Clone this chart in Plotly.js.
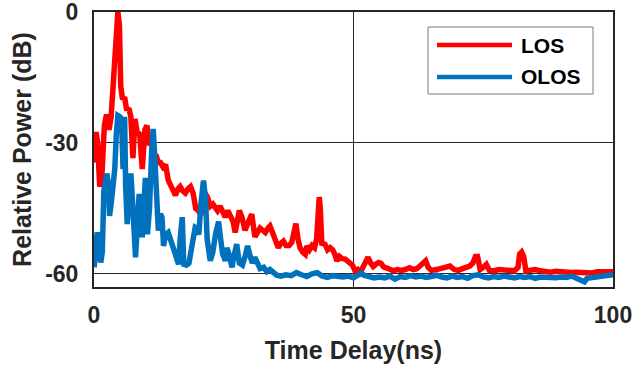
<!DOCTYPE html>
<html>
<head>
<meta charset="utf-8">
<script src="https://cdn.plot.ly/plotly-3.0.1.min.js"></script>
<style>
  html, body { margin: 0; padding: 0; background: #ffffff; }
  #chart { width: 632px; height: 369px; }
</style>
</head>
<body>
<div id="chart"></div>
<script>
// Power delay profiles: time delay (ns) vs relative power (dB)
const seriesNames = ["LOS", "OLOS"];

const timeLOS = [
  0.0, 0.4, 0.7, 1.1, 1.5, 2.0, 2.4, 2.9, 3.3, 3.6, 4.0, 4.35, 4.6, 4.9, 5.15, 5.5, 5.9, 6.3, 6.7, 7.1,
  7.5, 7.9, 8.3, 8.8, 9.3, 9.8, 10.2, 10.6, 11.0, 11.4, 12.0, 12.4, 12.8, 13.3, 13.8, 14.3, 14.8, 15.3, 15.7, 16.2,
  16.6, 17.1, 17.6, 18.1, 18.6, 19.1, 19.6, 20.1, 20.6, 21.0, 21.4, 21.9, 22.4, 22.9, 23.4, 23.8, 24.3, 24.8, 25.3, 25.8,
  26.3, 26.8, 27.2, 27.6, 28.0, 28.5, 29.1, 29.6, 30.0, 30.4, 30.7, 31.0, 31.5, 32.0, 32.5, 33.0, 33.5, 33.9, 34.4, 34.9,
  35.5, 36.0, 36.5, 37.0, 37.6, 38.1, 38.5, 38.9, 39.3, 39.7, 40.2, 40.7, 41.0, 41.5, 42.0, 42.5, 42.9, 43.2, 43.4, 43.6,
  43.9, 44.5, 45.0, 45.5, 46.0, 46.4, 46.8, 47.3, 47.8, 48.4, 48.9, 49.3, 49.8, 50.3, 50.8, 51.3, 51.8, 52.3, 52.8, 53.3,
  53.8, 54.3, 54.8, 55.3, 55.8, 56.3, 57.0, 57.7, 58.4, 59.2, 60.0, 60.8, 61.5, 62.2, 62.8, 63.4, 63.9, 64.4, 65.0, 66.0,
  67.0, 67.8, 68.6, 69.4, 70.2, 71.0, 71.8, 72.4, 73.0, 73.5, 73.9, 74.4, 75.0, 75.6, 76.2, 77.0, 78.0, 79.0, 80.0, 81.0,
  81.7, 82.0, 82.4, 82.8, 83.2, 84.0, 85.0, 86.0, 87.0, 88.0, 89.0, 90.0, 91.0, 92.0, 93.0, 94.0, 95.0, 96.0, 97.0, 98.0,
  99.0, 100.0
];
const powerLOS = [
  -34.5, -27.5, -30, -40, -38, -26, -23.5, -27, -24, -18.5, -10, -2, 0, -3, -17, -20, -19.5, -22.5, -22, -24,
  -33.5, -24.5, -27.5, -28, -36, -27, -26, -30.5, -29.5, -32.5, -33, -34.5, -34.5, -35.5, -35, -38.5, -40, -41.5, -42, -40.5,
  -40, -41, -41.5, -40.5, -40, -41.5, -45, -45.5, -46.5, -43.5, -41.5, -42.5, -44.5, -44, -45, -45.5, -44.5, -46, -47, -45.5,
  -46.5, -48, -50.5, -48, -45.5, -47, -50, -48.5, -47, -46.3, -49, -51.5, -50.5, -49.5, -50, -50.5, -49.5, -49, -50.5, -52.5,
  -54, -53, -52.5, -53.5, -53.5, -52.8, -50.5, -48.5, -52, -54, -55, -55.5, -53.6, -54.5, -53.5, -54, -52, -44, -42.4, -45,
  -53, -53.2, -54.5, -54, -54.5, -55.5, -57, -56, -56.5, -56.6, -57, -57.4, -58, -59.3, -59, -59.7, -58.5, -57.5, -56.2, -57.5,
  -58.3, -57.8, -57.4, -57.6, -58.4, -58.6, -59, -59.3, -59, -59.2, -59, -58.6, -59, -58.8, -58.2, -57.5, -57, -58.5, -59.2, -59,
  -58.8, -58.4, -58.2, -59, -59.2, -58.8, -58.6, -58.2, -57.5, -56, -56, -59, -58.5, -57.8, -59.2, -59.3, -59, -59.2, -59.3, -59.3,
  -58.5, -55.5, -55, -56, -59.3, -59.2, -59, -59.3, -59.5, -59.6, -59.4, -59.6, -59.5, -59.7, -59.6, -59.7, -59.5, -59.8, -59.5, -59.6,
  -59.4, -59.5
];

const timeOLOS = [
  0.0, 0.3, 0.6, 0.9, 1.3, 1.6, 1.9, 2.2, 2.5, 2.8, 3.0, 3.3, 3.7, 4.0, 4.3, 4.6, 5.0, 5.3, 5.6, 5.9,
  6.1, 6.4, 6.8, 7.1, 7.5, 8.0, 8.3, 8.7, 9.0, 9.3, 9.6, 9.9, 10.3, 10.7, 11.1, 11.4, 11.7, 12.1, 12.4, 12.8,
  13.1, 13.4, 13.8, 14.3, 14.8, 15.3, 15.8, 16.3, 16.6, 17.0, 17.3, 17.8, 18.3, 18.9, 19.5, 19.8, 20.2, 20.6, 21.1, 21.5,
  21.8, 22.4, 22.9, 23.4, 24.0, 24.4, 24.8, 25.3, 25.6, 26.0, 26.6, 26.9, 27.5, 28.0, 28.6, 29.1, 29.6, 30.1, 30.5, 31.0,
  31.5, 32.0, 32.7, 33.3, 33.9, 34.5, 35.2, 36.0, 37.0, 38.0, 39.0, 40.0, 41.0, 42.0, 43.0, 44.0, 45.0, 46.0, 47.0, 48.0,
  49.0, 50.0, 51.0, 51.5, 52.0, 53.0, 54.0, 55.0, 56.0, 57.0, 58.0, 59.0, 60.0, 61.0, 62.0, 63.0, 64.0, 65.0, 66.0, 67.0,
  68.0, 69.0, 70.0, 71.0, 72.0, 73.0, 74.0, 75.0, 76.0, 77.0, 78.0, 79.0, 80.0, 81.0, 82.0, 83.0, 84.0, 85.0, 86.0, 87.0,
  88.0, 89.0, 90.0, 91.0, 92.0, 93.0, 94.0, 94.5, 95.0, 96.0, 97.0, 98.0, 99.0, 100.0
];
const powerOLOS = [
  -58.5, -56, -50.5, -52, -57.4, -55, -41, -39, -37, -40, -46.7, -44, -40, -36, -28, -23.7, -24, -24.5, -36, -24,
  -40, -48.6, -42, -37, -45, -56.2, -50, -41.7, -46, -51.6, -45, -38, -50.9, -45, -32, -26.8, -33, -45, -50.1, -46.3,
  -47, -53.6, -51, -50.5, -52.5, -54.5, -56, -57.8, -52, -47, -57.8, -58, -57.5, -52.8, -49.3, -49.5, -51, -44, -38.6, -43,
  -52, -57, -55, -51, -48, -52, -55.5, -57, -54, -55.5, -58.5, -56.2, -53.2, -57.5, -58, -56, -53.6, -56, -57.5, -56.2,
  -57.5, -58.8, -58.5, -59.5, -59, -59.8, -60.3, -60.5, -60.2, -60.4, -59.7, -60.2, -60.6, -60, -59.7, -60.5, -60.8, -60.4, -60.6, -60.7,
  -60.5, -60.9, -60.2, -59.8, -60.3, -60.6, -60.9, -60.7, -60.9, -60.5, -61.2, -60.6, -60.8, -60.4, -60.7, -60.5, -60.8, -60.6, -60.3, -60.7,
  -60.9, -60.5, -60.8, -60.6, -61, -60.4, -60.2, -60.7, -60.9, -60.6, -60.8, -60.5, -60.7, -60.9, -60.6, -60.8, -60.6, -61, -60.7, -60.8,
  -60.6, -60.9, -60.7, -60.8, -60.5, -61, -61.4, -61.8, -61, -60.8, -60.9, -60.6, -60.5, -60.2
];

const xTickVals = [0, 50, 100];
const xTickText = ["0", "50", "100"];
const yTickVals = [-60, -30, 0];
const yTickText = ["-60", "-30", "0"];

const seriesColors = ["#ff0000", "#0072bd"];
const ink = "#262626";
const fontFamily = "Liberation Sans, Arial, Helvetica, sans-serif";

// Plot area in pixels, used to place the boxed legend
const W = 632, H = 369;
const M = { l: 94, r: 19, t: 12, b: 82 };
const pw = W - M.l - M.r, ph = H - M.t - M.b;
const px = v => (v - M.l) / pw;
const py = v => 1 - (v - M.t) / ph;

const traces = [
  { x: timeLOS, y: powerLOS, name: seriesNames[0], type: "scatter", mode: "lines",
    line: { color: seriesColors[0], width: 5.5 }, showlegend: false },
  { x: timeOLOS, y: powerOLOS, name: seriesNames[1], type: "scatter", mode: "lines",
    line: { color: seriesColors[1], width: 5.5 }, showlegend: false }
];

// Legend drawn as a framed box with long line samples
const legendRows = [45, 77];
const shapes = [
  { type: "rect", xref: "paper", yref: "paper", x0: px(428), x1: px(593), y0: py(27), y1: py(94),
    line: { color: "#7a7a7a", width: 1 }, fillcolor: "#ffffff", layer: "above" }
];
const annotations = [];
seriesNames.forEach((name, i) => {
  shapes.push({ type: "line", xref: "paper", yref: "paper",
    x0: px(437), x1: px(512), y0: py(legendRows[i]), y1: py(legendRows[i]),
    line: { color: seriesColors[i], width: 4.5 }, layer: "above" });
  annotations.push({ xref: "paper", yref: "paper", x: px(519), y: py(legendRows[i]),
    xanchor: "left", yanchor: "middle", showarrow: false, text: name,
    font: { family: fontFamily, size: 21, color: "#000000", weight: "bold" } });
});

const layout = {
  width: W, height: H,
  margin: M,
  paper_bgcolor: "#ffffff", plot_bgcolor: "#ffffff",
  showlegend: false,
  font: { family: fontFamily, color: ink },
  xaxis: {
    range: [0, 100], tickvals: xTickVals, ticktext: xTickText,
    showgrid: true, gridcolor: ink, gridwidth: 1, zeroline: false,
    showline: true, mirror: true, linecolor: ink, linewidth: 2,
    ticks: "", ticklabelstandoff: 6, ticklabeloverflow: "allow",
    tickfont: { family: fontFamily, size: 23, color: ink, weight: "bold" },
    title: { text: "Time Delay(ns)", standoff: 15,
      font: { family: fontFamily, size: 25, color: ink, weight: "bold" } },
    automargin: false
  },
  yaxis: {
    range: [-63, 0], tickvals: yTickVals, ticktext: yTickText,
    showgrid: true, gridcolor: ink, gridwidth: 1, zeroline: false,
    showline: true, mirror: true, linecolor: ink, linewidth: 2,
    ticks: "", ticklabelstandoff: 9, ticklabeloverflow: "allow",
    tickfont: { family: fontFamily, size: 23, color: ink, weight: "bold" },
    title: { text: "Relative Power (dB)", standoff: 6,
      font: { family: fontFamily, size: 25, color: ink, weight: "bold" } },
    automargin: false
  },
  shapes: shapes,
  annotations: annotations
};

Plotly.newPlot("chart", traces, layout, { staticPlot: true, displayModeBar: false });
</script>
</body>
</html>
